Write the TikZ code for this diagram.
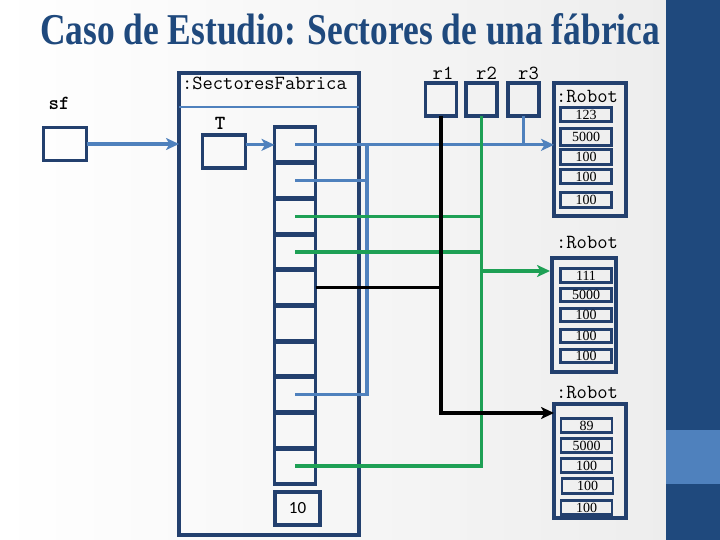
\documentclass[tikz,border=0pt]{standalone}
\usepackage{fontspec}
\setmainfont{Liberation Serif}
\newfontfamily\calibri{Carlito}
\usepackage{graphicx}
\usetikzlibrary{arrows.meta,calc}

\definecolor{navy}{RGB}{35,64,110}
\definecolor{steel}{RGB}{79,129,189}
\definecolor{verdec}{RGB}{30,160,85}
\definecolor{titulo}{RGB}{31,73,125}

\begin{document}
\begin{tikzpicture}[x=1pt, y=-1pt,
    every node/.style={inner sep=0pt, outer sep=0pt},
    caja/.style={draw=navy, line width=3.2pt},
    campo/.style={draw=navy, line width=2.8pt, minimum width=51pt, font=\fontsize{14}{14}\selectfont},
    etiq/.style={font=\ttfamily\fontsize{20}{20}\selectfont},
    etiqb/.style={font=\ttfamily\bfseries\fontsize{20}{20}\selectfont},
    >={Stealth[length=13pt, width=12pt, inset=3.5pt]},
    azul/.style={draw=steel, line width=3.2pt},
    verde/.style={draw=verdec, line width=3.4pt},
    negro/.style={draw=black, line width=3.4pt}
]

% Background and side band
\fill[left color=white, right color=gray!14] (0,0) rectangle (666,540);
\fill[titulo] (666,0) rectangle (720,540);
\fill[steel] (666,430) rectangle (720,484);
\useasboundingbox (0,0) rectangle (720,540);

% Title
\node[anchor=base west, text=titulo, font=\bfseries\fontsize{44}{44}\selectfont] (tit) at (40,45)
    {\scalebox{0.805}[1]{Caso de Estudio: Sectores de una fábrica}};

% Variable sf
\node[caja, minimum width=43pt, minimum height=33pt] (sf) at (65,144) {};
\node[etiqb] (sflbl) at (59,103) {sf};

% Object SectoresFabrica
\node[caja, minimum width=180pt, minimum height=462pt] (sec) at (269,304) {};
\node[etiq, anchor=west] (seclbl) at (182,83) {:SectoresFabrica};
\draw[steel, line width=1.8pt] ($(sec.north west)+(0,34)$) -- ($(sec.north east)+(0,34)$);

% Attribute T
\node[caja, minimum width=43pt, minimum height=33pt] (T) at (224,151.5) {};
\node[etiqb] (tlbl) at (220,123) {T};

% Array cells
\node[caja, minimum width=41pt, minimum height=35.7pt] (c1) at (295,144.85) {};
\node[caja, minimum width=41pt, minimum height=35.7pt] (c2) at (295,180.55) {};
\node[caja, minimum width=41pt, minimum height=35.7pt] (c3) at (295,216.25) {};
\node[caja, minimum width=41pt, minimum height=35.7pt] (c4) at (295,251.95) {};
\node[caja, minimum width=41pt, minimum height=35.7pt] (c5) at (295,287.65) {};
\node[caja, minimum width=41pt, minimum height=35.7pt] (c6) at (295,323.35) {};
\node[caja, minimum width=41pt, minimum height=35.7pt] (c7) at (295,359.05) {};
\node[caja, minimum width=41pt, minimum height=35.7pt] (c8) at (295,394.75) {};
\node[caja, minimum width=41pt, minimum height=35.7pt] (c9) at (295,430.45) {};
\node[caja, minimum width=41pt, minimum height=35.7pt] (c10) at (295,466.15) {};
\foreach \i in {1,...,9}
    \draw[navy, line width=5pt] (c\i.south west) -- (c\i.south east);
\node[caja, minimum width=45pt, minimum height=33pt, font=\calibri\fontsize{17}{17}\selectfont] (n) at (297.5,508.5) {10};

% Variables r1, r2, r3
\node[caja, minimum width=31pt, minimum height=33pt, label={[etiq, label distance=3pt, xshift=2pt]above:r1}] (r1) at (441,99.5) {};
\node[caja, minimum width=31pt, minimum height=33pt, label={[etiq, label distance=3pt, xshift=5pt]above:r2}] (r2) at (481.5,99.5) {};
\node[caja, minimum width=31pt, minimum height=33pt, label={[etiq, label distance=3pt, xshift=5pt]above:r3}] (r3) at (523.5,99.5) {};

% Robot 123
\node[caja, minimum width=72pt, minimum height=133pt] (rob1) at (590,149.5) {};
\node[etiq] (rob1lbl) at (587,97) {:Robot};
\node[campo, minimum height=14.5pt] (a1) at (586,114.5) {123};
\node[campo, minimum height=17.5pt] (a2) at (586,137) {5000};
\node[campo, minimum height=15.5pt] (a3) at (586,157) {100};
\node[campo, minimum height=14.5pt] (a4) at (586,176.5) {100};
\node[campo, minimum height=15.5pt] (a5) at (586,200) {100};

% Robot 111
\node[etiq] (rob2lbl) at (587,243) {:Robot};
\node[caja, minimum width=64pt, minimum height=114pt] (rob2) at (584,315) {};
\node[campo, minimum height=13.5pt] (b1) at (586,275.5) {111};
\node[campo, minimum height=13.5pt] (b2) at (586,295) {5000};
\node[campo, minimum height=13.5pt] (b3) at (586,315) {100};
\node[campo, minimum height=13.5pt] (b4) at (586,336) {100};
\node[campo, minimum height=13.5pt] (b5) at (586,356) {100};

% Robot 89
\node[etiq] (rob3lbl) at (587,393) {:Robot};
\node[caja, minimum width=72pt, minimum height=114pt] (rob3) at (590,461) {};
\node[campo, minimum height=13.5pt] (d1) at (586.5,425.5) {89};
\node[campo, minimum height=14.5pt] (d2) at (586.5,445.5) {5000};
\node[campo, minimum height=14.5pt] (d3) at (586.5,465.5) {100};
\node[campo, minimum height=15.5pt] (d4) at (587.5,486) {100};
\node[campo, minimum height=14.5pt] (d5) at (586.5,507.5) {100};

% References to the factory and the array
\draw[azul, ->] (sf.east) -- (sf.east -| sec.west);
\draw[azul, ->] (T.east |- c1.center) -- (c1.west);

% Cells pointing to robot 123
\coordinate (bus) at ($(c1.center -| sec.east)+(8,0)$);
\draw[azul, ->] (c1.center) -- (c1.center -| rob1.west);
\draw[azul] (c2.center) -| (bus);
\draw[azul] (c8.center) -| (bus);
\draw[azul] (r3.south) -- (r3.south |- c1.center);

% Cells pointing to robot 111
\coordinate (g) at ($(rob2.north west)+(-2,13)$);
\draw[verde] (r2.south) |- (c10.center);
\draw[verde] (c3.center) -- (c3.center -| r2.south);
\draw[verde] (c4.center) -- (c4.center -| r2.south);
\draw[verde, ->] (g -| r2.south) -- (g);

% Cells pointing to robot 89
\coordinate (k) at ($(rob3.north west)+(0,9)$);
\draw[negro] (c5.east) -- (c5.east -| r1.south);
\draw[negro, ->] (r1.south) |- (k);

\end{tikzpicture}
\end{document}
